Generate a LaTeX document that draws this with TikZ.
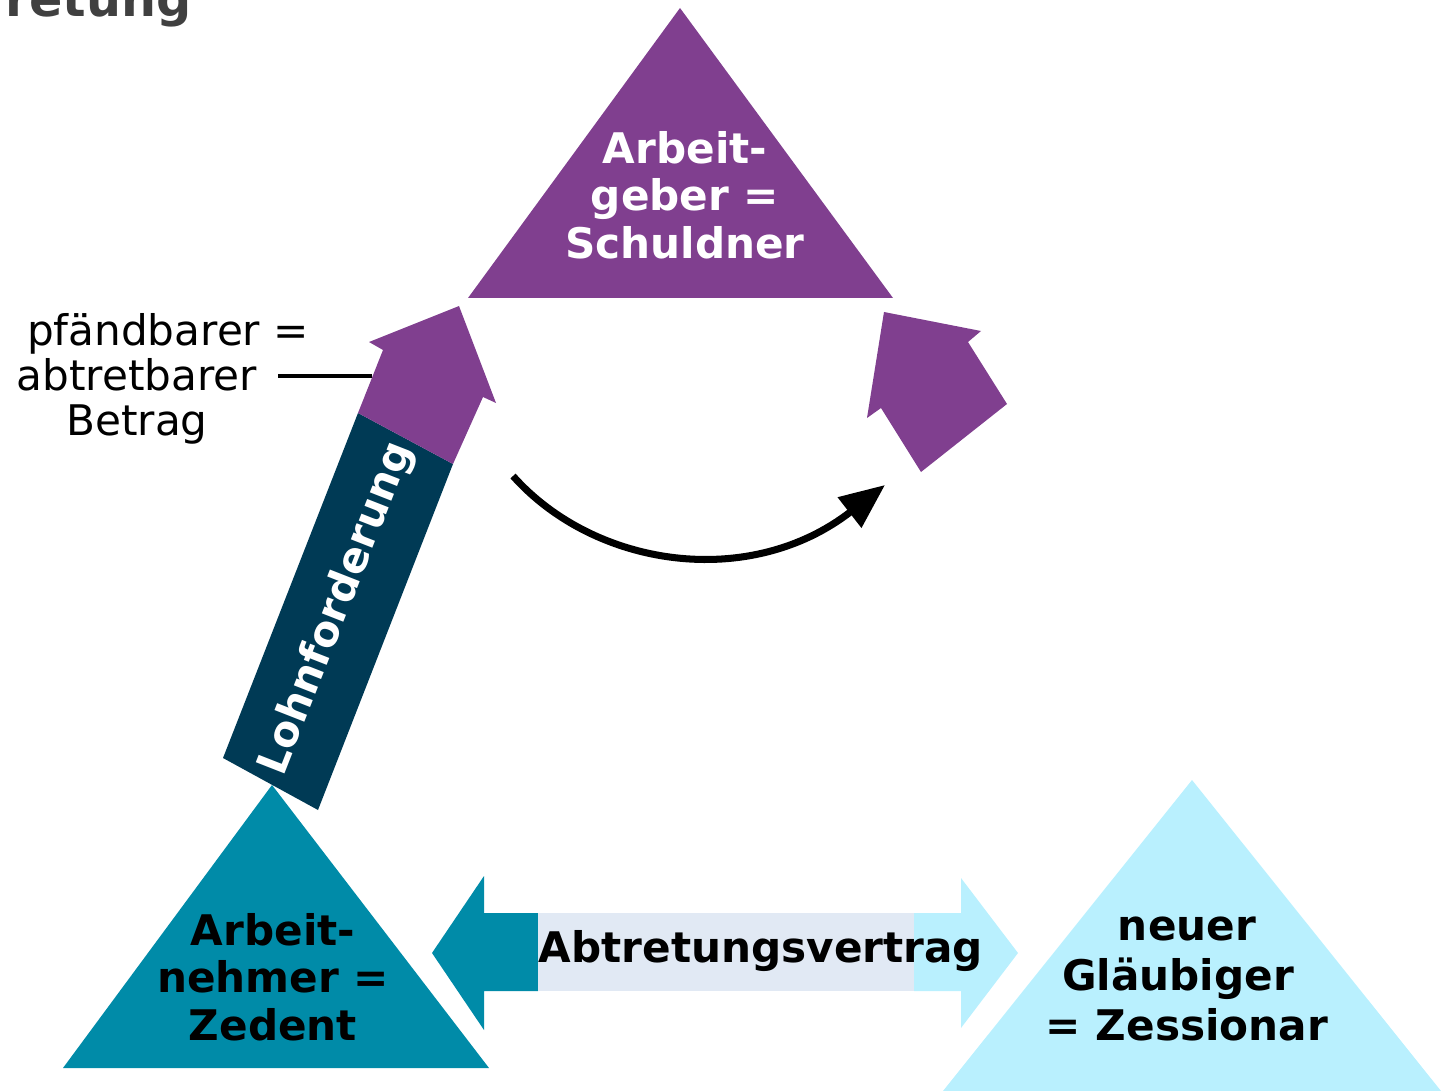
\documentclass[tikz,border=0pt]{standalone}
\usepackage{fontspec}
\setmainfont{DejaVu Sans}
\usepackage{xcolor}
\usepackage{tikz}
\usetikzlibrary{arrows.meta, positioning}
\definecolor{agpurple}{RGB}{128, 63, 143}
\definecolor{anteal}{RGB}{0, 139, 168}
\definecolor{zesscyan}{RGB}{185, 240, 254}
\definecolor{lohnnavy}{RGB}{0, 58, 85}
\definecolor{vertraglight}{RGB}{225, 233, 244}
\definecolor{titlegray}{RGB}{64, 64, 64}

\begin{document}
\begin{tikzpicture}[
  x=0.02cm, y=-0.02cm,
  rolle/.style={align=center, inner sep=0pt,
                font=\bfseries\fontsize{24}{27}\selectfont},
  hinweis/.style={align=center, inner sep=0pt,
                  font=\fontsize{24}{25.6}\selectfont},
  arr/.style={-{Triangle[length=0.9cm, width=0.74cm]}, line width=4pt},
  linie/.style={line width=2pt}
]
\useasboundingbox (0,0) rectangle (1441,1091);

% the three parties
\fill[agpurple] (468,298) -- (680,8) -- (893,298) -- cycle;
\fill[anteal] (63,1068) -- (272,785) -- (489,1068) -- cycle;
\fill[zesscyan] (943,1091) -- (1192,780) -- (1441,1091) -- cycle;

% claim bar and arrows
\fill[lohnnavy] (223,758) -- (358,413) -- (453,464) -- (318,810) -- cycle;
\fill[agpurple] (358,413) -- (383,350) -- (369,342) -- (459,306) -- (496,403) -- (483,397) -- (453,464) -- cycle;
\fill[agpurple] (884,312) -- (981,331) -- (968,342) -- (1007,404) -- (921,472) -- (881,408) -- (867,418) -- cycle;

\fill[anteal] (432,953) -- (484,876) -- (484,913) -- (538,913) -- (538,991) -- (484,991) -- (484,1030) -- cycle;
\fill[vertraglight] (538,913) rectangle (914,991);
\fill[zesscyan] (914,913) -- (961,913) -- (961,878) -- (1018,953) -- (961,1028) -- (961,991) -- (914,991) -- cycle;

\node[anchor=base east, inner sep=0pt, text=titlegray,
      font=\bfseries\fontsize{28}{30}\selectfont] (titel) at (192,17) {retung};

\node[rolle, text=white] (geber) at (685,195) {Arbeit-\\geber =\\Schuldner};
\node[rolle] (nehmer) at (273,977) {Arbeit-\\nehmer =\\Zedent};
\node[rolle, font=\bfseries\fontsize{24}{28.4}\selectfont] (zessionar) at (1187,979) {neuer\\Gläubiger\kern0.36cm\\= Zessionar};
\node[rolle] (vertrag) at (761,951) {Abtretungsvertrag};
\node[rolle, text=white, rotate=68.6] (lohn) at (337,609) {Lohnforderung};
\node[hinweis] (betrag) at (137,379) {\hspace*{1.24cm}pfändbarer =\\abtretbarer\\Betrag};

\coordinate (betragende) at (278,376);
\coordinate (pfeilrand) at (372,376);
\draw[linie] (betragende) -- (pfeilrand);

\coordinate (bogenstart) at (513,476);
\coordinate (bogenziel) at (885,485);
\draw[arr] (bogenstart) .. controls (595,568) and (750,590) .. (bogenziel);
\end{tikzpicture}
\end{document}
